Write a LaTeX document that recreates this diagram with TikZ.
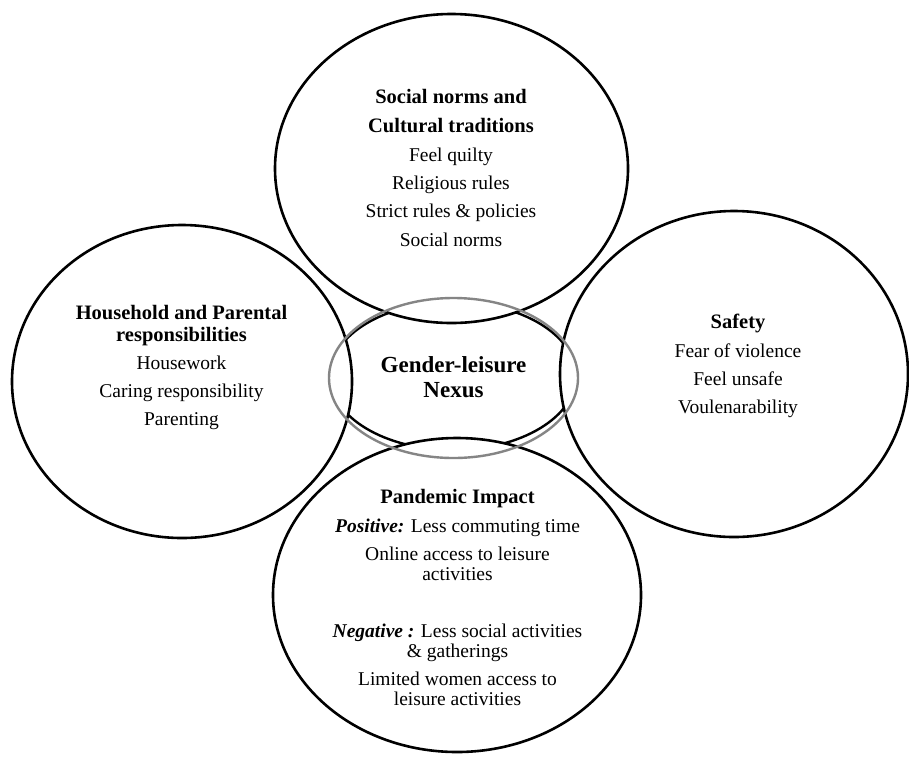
\documentclass[tikz,border=0pt]{standalone}
\usepackage{fontspec}
\setmainfont{Liberation Serif}
\usetikzlibrary{shapes.geometric}
\begin{document}
\begin{tikzpicture}[x=1pt,y=-1pt,
  ring/.style={draw=black, line width=2.6pt, ellipse, inner sep=0pt, outer sep=0pt},
  hubring/.style={draw=black, line width=2.4pt, ellipse, inner sep=0pt, outer sep=0pt},
  grayring/.style={draw=black!48, line width=2.4pt, ellipse, inner sep=0pt, outer sep=0pt},
  lbl/.style={anchor=base, inner sep=0pt, font=\fontsize{19.5}{23}\selectfont},
  hd/.style={anchor=base, inner sep=0pt, font=\fontsize{20.5}{24}\selectfont\bfseries},
  hub/.style={anchor=base, inner sep=0pt, font=\fontsize{23}{27}\selectfont\bfseries}]
\useasboundingbox (0,0) rectangle (909,756);
\fill[white] (0,0) rectangle (909,756);
% circles
\node[ring, minimum width=353pt, minimum height=309pt] (topc) at (451.5,168.5) {};
\node[ring, minimum width=340pt, minimum height=313pt] (leftc) at (182,381.5) {};
\node[ring, minimum width=348pt, minimum height=326pt] (rightc) at (734,374) {};
\node[ring, minimum width=368pt, minimum height=314pt] (botc) at (457,595) {};
% inner black ring, visible only outside the four circles
\begin{scope}[even odd rule]
  \clip (-20,-20) rectangle (930,780) (451.5,168.5) ellipse (176.5pt and 154.5pt);
  \begin{scope}[even odd rule]
    \clip (-20,-20) rectangle (930,780) (182,381.5) ellipse (170pt and 156.5pt);
    \begin{scope}[even odd rule]
      \clip (-20,-20) rectangle (930,780) (734,374) ellipse (174pt and 163pt);
      \begin{scope}[even odd rule]
        \clip (-20,-20) rectangle (930,780) (457,595) ellipse (184pt and 157pt);
        \node[hubring, minimum width=246pt, minimum height=148pt] (hubc) at (453,376) {};
      \end{scope}
    \end{scope}
  \end{scope}
\end{scope}
\node[grayring, minimum width=249pt, minimum height=160pt] (grayc) at (453.5,378) {};
% top texts
\node[hd] (t1) at (451,103) {Social norms and};
\node[hd] (t2) at (451,132) {Cultural traditions};
\node[lbl] (t3) at (451,161) {Feel quilty};
\node[lbl] (t4) at (451,189) {Religious rules};
\node[lbl] (t5) at (451,217) {Strict rules \& policies};
\node[lbl] (t6) at (451,246) {Social norms};
% left texts
\node[hd] (l1) at (181.5,319) {Household and Parental};
\node[hd] (l2) at (181.5,341) {responsibilities};
\node[lbl] (l3) at (181.5,369) {Housework};
\node[lbl] (l4) at (181.5,397) {Caring responsibility};
\node[lbl] (l5) at (181.5,425) {Parenting};
% right texts
\node[hd] (r1) at (738,328) {Safety};
\node[lbl] (r2) at (738,357) {Fear of violence};
\node[lbl] (r3) at (738,385) {Feel unsafe};
\node[lbl] (r4) at (738,413) {Voulenarability};
% hub texts
\node[hub] (h1) at (453.5,372) {Gender-leisure};
\node[hub] (h2) at (453.5,397) {Nexus};
% bottom texts
\node[hd] (b1) at (457.5,503) {Pandemic Impact};
\node[lbl] (b2) at (457.5,532) {\textbf{\textit{Positive:}} Less commuting time};
\node[lbl] (b3) at (457.5,560) {Online access to leisure};
\node[lbl] (b4) at (457.5,580) {activities};
\node[lbl] (b5) at (457.5,637) {\textbf{\textit{Negative :}} Less social activities};
\node[lbl] (b6) at (457.5,657) {\& gatherings};
\node[lbl] (b7) at (457.5,685) {Limited women access to};
\node[lbl] (b8) at (457.5,705) {leisure activities};
\end{tikzpicture}
\end{document}
